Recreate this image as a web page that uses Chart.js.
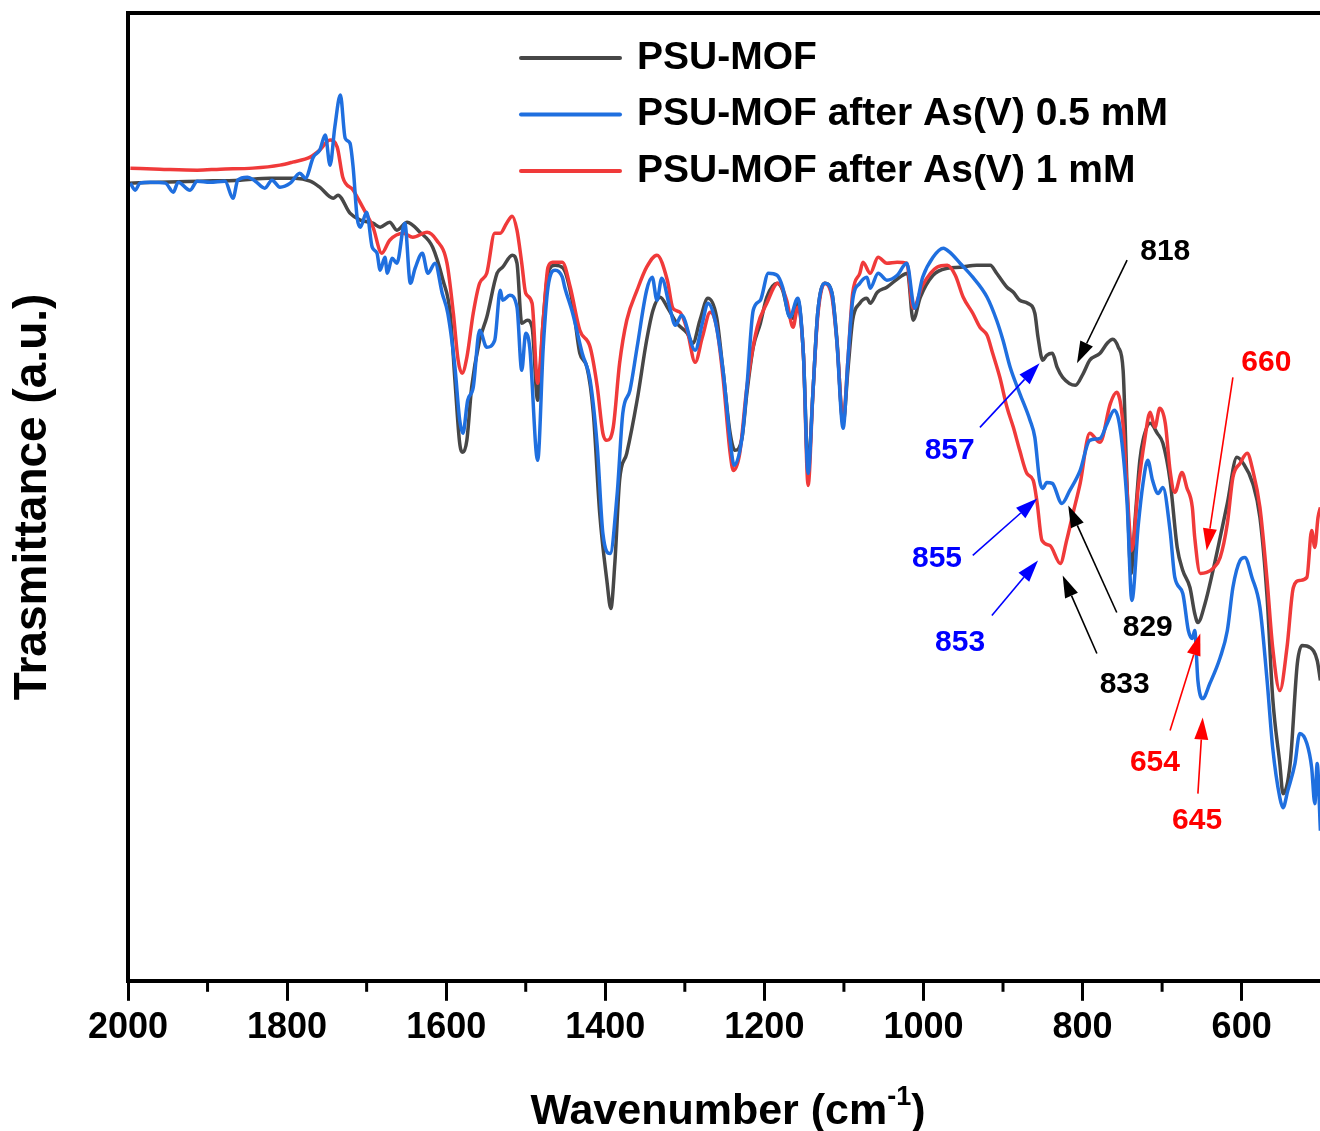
<!DOCTYPE html>
<html lang="en">
<head>
<meta charset="UTF-8" />
<title>PSU-MOF FTIR spectra</title>
<style>
  html, body { margin: 0; padding: 0; background: #fff; }
  canvas { display: block; }
</style>
</head>
<body>
<canvas id="ftir" width="1320" height="1131"></canvas>

<script src="https://cdn.jsdelivr.net/npm/chart.js@4.4.1/dist/chart.umd.min.js"></script>
<script>
// ---- data (wavenumber in cm-1, transmittance in a.u.) ----
const psuWn = [1999,1960,1910,1859,1822,1790,1771,1759,1742,1736,1721,1708,1692,1683,1671,1662,1649,1633,1617,1604,1595,1589,1583,1579,1574,1568,1558,1549,1536,1529,1517,1511,1505,1498,1492,1485,1478,1472,1463,1453,1441,1432,1423,1415,1407,1398,1393,1388,1382,1373,1360,1348,1340,1331,1322,1310,1297,1290,1281,1271,1260,1252,1243,1237,1228,1222,1214,1205,1197,1184,1177,1168,1163,1158,1151,1145,1139,1133,1124,1115,1109,1101,1095,1089,1080,1071,1067,1058,1046,1030,1020,1013,1004,988,970,954,933,916,908,895,887,879,869,860,856,850,845,838,832,825,809,799,791,778,769,762,755,749,744,739,734,728,724,715,706,699,690,681,674,665,659,655,646,636,627,618,606,598,586,577,568,561,552,548,539,530,524,514,505,501];
const psuT = [79.7,79.8,79.9,80.0,80.2,80.2,79.9,79.3,78.2,78.5,76.7,76.0,75.7,75.3,75.8,75.0,75.8,74.8,73.3,70.0,66.7,60.0,53.7,52.8,54.0,59.3,64.0,66.3,70.7,71.3,72.5,71.7,65.7,66.0,65.3,58.0,66.0,70.7,71.5,71.2,67.7,62.7,61.3,56.7,46.7,40.0,37.2,41.7,50.0,52.7,58.0,64.0,67.0,68.3,67.3,65.7,64.7,63.7,66.0,68.2,66.3,61.0,54.7,53.0,54.3,58.7,63.3,65.7,68.3,69.7,69.0,66.3,66.2,68.0,62.7,51.3,58.7,66.7,69.7,68.7,64.3,55.7,61.0,66.0,67.7,68.2,67.7,68.8,69.3,70.3,70.7,66.0,68.3,70.5,71.2,71.3,71.5,71.5,70.7,69.3,68.8,68.0,67.7,66.7,64.3,62.0,62.5,62.7,61.3,60.3,59.5,60.7,62.0,62.7,63.7,64.1,63.3,61.0,49.3,40.7,46.0,52.0,54.0,55.7,54.7,53.7,50.0,43.3,41.0,39.3,36.7,35.8,37.7,41.0,44.3,47.7,52.3,51.7,49.7,46.3,38.3,28.3,21.7,18.7,21.7,31.7,33.5,33.3,32.0,30.0];

const as05Wn = [1997,1991,1985,1972,1953,1943,1937,1922,1913,1897,1878,1868,1862,1850,1840,1828,1819,1809,1796,1784,1777,1767,1759,1752,1746,1740,1733,1727,1721,1717,1712,1708,1700,1693,1687,1683,1677,1674,1668,1662,1652,1645,1639,1630,1623,1614,1605,1598,1589,1583,1579,1573,1566,1558,1549,1539,1532,1529,1520,1511,1505,1500,1495,1485,1478,1472,1463,1454,1451,1441,1429,1419,1410,1403,1394,1385,1378,1369,1360,1348,1341,1335,1329,1319,1312,1304,1287,1278,1271,1262,1252,1243,1238,1228,1222,1214,1205,1195,1184,1177,1168,1158,1151,1145,1139,1133,1124,1115,1109,1101,1095,1089,1080,1071,1067,1057,1046,1033,1021,1011,1001,988,975,967,954,938,920,908,900,891,879,866,860,854,850,845,838,826,816,803,791,778,769,760,753,744,738,730,724,718,712,705,699,690,684,674,667,662,659,655,649,640,627,618,611,602,596,587,577,568,561,552,548,542,533,527,518,512,508,505,501];
const as05T = [79.7,79.0,79.7,79.8,79.7,78.8,79.8,79.0,79.9,79.8,79.9,78.2,80.0,80.3,79.9,79.2,80.0,79.3,79.7,80.7,80.2,82.3,83.0,84.5,81.5,85.3,88.5,84.2,83.7,81.3,76.3,75.3,76.8,73.3,72.7,71.0,72.3,70.7,72.2,71.7,75.7,69.7,71.2,72.7,70.7,71.7,68.7,66.7,61.3,56.0,54.7,58.0,59.3,65.0,63.3,64.0,69.0,68.0,68.5,67.3,61.0,64.7,63.3,52.0,63.3,69.3,71.0,70.3,69.3,66.7,62.7,60.0,53.3,44.7,42.7,48.7,56.7,59.0,63.3,69.0,70.3,68.0,70.2,67.3,65.5,66.5,63.0,65.7,67.7,66.0,61.0,54.0,51.5,54.3,59.3,67.0,68.0,70.7,70.5,69.3,66.3,68.2,62.7,50.7,58.7,66.7,69.7,68.7,64.0,55.2,62.0,68.0,69.7,70.3,69.2,70.7,70.0,70.5,71.7,67.2,70.3,72.3,73.2,72.8,71.7,70.3,68.3,66.0,64.0,61.3,58.7,56.0,54.3,50.0,49.2,49.8,49.7,47.7,49.0,51.0,54.0,54.2,55.7,57.0,55.3,47.7,38.0,45.5,49.7,52.0,50.0,48.7,49.3,45.0,40.3,38.7,35.0,34.2,35.0,30.0,28.2,29.7,32.3,35.0,39.3,42.0,42.3,40.3,37.3,30.0,23.3,18.3,17.3,19.0,21.7,24.7,23.7,21.3,17.7,21.7,15.0];

const as1Wn = [1997,1960,1913,1884,1843,1809,1793,1771,1759,1746,1737,1730,1717,1705,1692,1681,1671,1654,1642,1624,1612,1599,1591,1585,1580,1574,1566,1558,1549,1539,1532,1524,1517,1511,1505,1500,1492,1485,1478,1472,1466,1454,1444,1432,1419,1410,1403,1398,1390,1382,1373,1360,1348,1335,1322,1315,1306,1297,1287,1278,1268,1260,1252,1243,1239,1231,1222,1209,1197,1183,1172,1164,1158,1151,1145,1139,1133,1124,1115,1109,1101,1095,1089,1080,1076,1067,1057,1046,1033,1021,1013,1001,983,970,960,950,938,929,920,913,904,895,887,879,870,862,857,851,841,828,820,812,803,791,778,765,757,749,743,738,730,722,715,709,703,696,690,684,675,669,662,659,652,644,636,627,618,611,602,593,586,577,568,561,552,543,535,527,518,512,508,504,501];
const as1T = [81.2,81.1,81.0,81.1,81.2,81.5,81.8,82.3,83.0,84.0,83.3,80.3,79.0,77.3,75.3,72.7,74.0,74.7,74.3,74.8,74.0,71.7,66.7,62.0,60.7,62.3,66.7,69.7,70.7,74.7,74.7,75.7,76.4,75.0,71.7,68.7,67.7,59.7,66.0,71.3,71.8,71.8,69.3,65.0,63.3,59.3,54.7,54.0,55.3,61.7,66.0,69.0,71.3,72.5,70.0,67.2,66.8,65.0,61.8,64.3,66.8,65.3,60.3,52.7,51.0,52.7,59.3,65.3,67.7,69.7,68.0,65.3,67.3,62.7,49.5,58.7,66.3,69.7,68.3,64.0,56.0,62.0,68.7,70.7,71.8,70.7,72.3,71.7,71.8,71.7,67.2,69.5,71.3,71.5,70.5,68.3,66.7,65.3,64.5,62.7,60.3,57.3,55.3,53.0,50.7,50.0,47.7,44.0,43.5,41.7,44.0,46.7,49.7,54.7,53.8,57.7,58.8,55.5,47.7,43.0,49.3,54.0,56.8,55.3,57.2,55.7,51.0,48.8,50.8,49.3,47.3,44.3,40.7,40.8,41.2,42.3,45.7,50.3,51.7,52.7,51.0,47.3,40.0,33.3,29.0,33.3,39.3,40.0,40.3,45.0,43.3,46.3,47.3];

const seriesNames = ['PSU-MOF', 'PSU-MOF after As(V) 0.5 mM', 'PSU-MOF after As(V) 1 mM'];
const seriesColors = ['#474747', '#1f6fdf', '#f03a3a'];

// tick positions on the wavenumber axis (labels on every second one)
const xTicks = [2000, 1900, 1800, 1700, 1600, 1500, 1400, 1300, 1200, 1100, 1000, 900, 800, 700, 600];

// peak labels: text, colour, label position, arrow start, arrow tip (wavenumber, a.u.)
const notes = [
  { text: '818', color: '#000000', at: [696, 72.8], from: [744, 72.0], to: [807, 61.7] },
  { text: '857', color: '#0000ff', at: [967, 53.0], from: [929, 55.3], to: [854, 61.7] },
  { text: '855', color: '#0000ff', at: [983, 42.2], from: [938, 42.5], to: [857, 48.2] },
  { text: '853', color: '#0000ff', at: [954, 33.8], from: [914, 36.5], to: [856, 42.0] },
  { text: '829', color: '#000000', at: [718, 35.3], from: [757, 36.8], to: [818, 47.5] },
  { text: '833', color: '#000000', at: [747, 29.6], from: [782, 32.7], to: [825, 40.5] },
  { text: '660', color: '#ff0000', at: [569, 61.8], from: [611, 60.3], to: [644, 43.0] },
  { text: '654', color: '#ff0000', at: [709, 21.8], from: [690, 25.0], to: [652, 34.7] },
  { text: '645', color: '#ff0000', at: [656, 16.0], from: [655, 18.7], to: [649, 26.3] }
];

const FONT = "'Liberation Sans', Arial, Helvetica, sans-serif";

function pts(wn, t) {
  return wn.map((w, i) => ({ x: w, y: t[i] }));
}

// frame, minor ticks, axis titles, legend and peak labels
const extras = {
  id: 'extras',
  afterDraw(chart) {
    const { ctx, chartArea: a } = chart;
    const xs = chart.scales.x, ys = chart.scales.y;
    ctx.save();

    // left and top border
    ctx.strokeStyle = '#000';
    ctx.lineWidth = 4;
    ctx.lineCap = 'square';
    ctx.beginPath();
    ctx.moveTo(a.left, a.bottom);
    ctx.lineTo(a.left, a.top);
    ctx.lineTo(chart.width + 4, a.top);
    ctx.stroke();

    // minor ticks every 100
    ctx.lineWidth = 3;
    ctx.lineCap = 'butt';
    xs.ticks.forEach(t => {
      if (t.value % 200 !== 0) {
        const px = xs.getPixelForValue(t.value);
        ctx.beginPath();
        ctx.moveTo(px, a.bottom);
        ctx.lineTo(px, a.bottom + 11);
        ctx.stroke();
      }
    });

    // x title with superscript
    ctx.fillStyle = '#000';
    ctx.textBaseline = 'alphabetic';
    ctx.textAlign = 'left';
    const big = 'bold 43px ' + FONT, small = 'bold 27px ' + FONT;
    ctx.font = big;
    const w1 = ctx.measureText('Wavenumber (cm').width;
    const w3 = ctx.measureText(')').width;
    ctx.font = small;
    const w2 = ctx.measureText('-1').width;
    let tx = (a.left + a.right) / 2 - (w1 + w2 + w3) / 2 + 4;
    const base = 1124;
    ctx.font = big;
    ctx.fillText('Wavenumber (cm', tx, base);
    ctx.font = small;
    ctx.fillText('-1', tx + w1, base - 19);
    ctx.font = big;
    ctx.fillText(')', tx + w1 + w2, base);

    // y title
    ctx.save();
    ctx.translate(33, (a.top + a.bottom) / 2);
    ctx.rotate(-Math.PI / 2);
    ctx.font = 'bold 46px ' + FONT;
    ctx.textAlign = 'center';
    ctx.textBaseline = 'middle';
    ctx.fillText('Trasmittance (a.u.)', 0, 0);
    ctx.restore();

    // legend
    ctx.font = 'bold 39px ' + FONT;
    ctx.textAlign = 'left';
    ctx.textBaseline = 'middle';
    chart.data.datasets.forEach((ds, i) => {
      const ly = 58 + i * 56.5;
      ctx.strokeStyle = ds.borderColor;
      ctx.lineWidth = 4;
      ctx.lineCap = 'round';
      ctx.beginPath();
      ctx.moveTo(521, ly);
      ctx.lineTo(620, ly);
      ctx.stroke();
      ctx.fillStyle = '#000';
      ctx.fillText(ds.label, 637, ly);
    });

    // peak labels with arrows
    ctx.font = 'bold 30px ' + FONT;
    ctx.textAlign = 'center';
    ctx.textBaseline = 'middle';
    notes.forEach(n => {
      const x0 = xs.getPixelForValue(n.from[0]), y0 = ys.getPixelForValue(n.from[1]);
      const x1 = xs.getPixelForValue(n.to[0]), y1 = ys.getPixelForValue(n.to[1]);
      const ang = Math.atan2(y1 - y0, x1 - x0);
      const hl = 22, hw = 7;
      const bx = x1 - hl * Math.cos(ang), by = y1 - hl * Math.sin(ang);
      ctx.strokeStyle = n.color;
      ctx.fillStyle = n.color;
      ctx.lineWidth = 1.6;
      ctx.lineCap = 'butt';
      ctx.beginPath();
      ctx.moveTo(x0, y0);
      ctx.lineTo(bx, by);
      ctx.stroke();
      ctx.beginPath();
      ctx.moveTo(x1, y1);
      ctx.lineTo(bx + hw * Math.sin(ang), by - hw * Math.cos(ang));
      ctx.lineTo(bx - hw * Math.sin(ang), by + hw * Math.cos(ang));
      ctx.closePath();
      ctx.fill();
      ctx.fillText(n.text, xs.getPixelForValue(n.at[0]), ys.getPixelForValue(n.at[1]));
    });

    ctx.restore();
  }
};

const ctx = document.getElementById('ftir').getContext('2d');
const chart = new Chart(ctx, {
  type: 'line',
  data: {
    datasets: [
      { label: seriesNames[0], data: pts(psuWn, psuT), borderColor: seriesColors[0], order: 2 },
      { label: seriesNames[1], data: pts(as05Wn, as05T), borderColor: seriesColors[1], order: 0 },
      { label: seriesNames[2], data: pts(as1Wn, as1T), borderColor: seriesColors[2], order: 1 }
    ]
  },
  options: {
    responsive: false,
    animation: false,
    parsing: false,
    elements: {
      line: { borderWidth: 3.5, cubicInterpolationMode: 'monotone', fill: false },
      point: { radius: 0, hoverRadius: 0 }
    },
    layout: { padding: { left: 128, top: 13, right: 0, bottom: 75 } },
    plugins: {
      legend: { display: false },
      tooltip: { enabled: false }
    },
    scales: {
      x: {
        type: 'linear',
        reverse: true,
        min: 501.5,
        max: 2000,
        afterBuildTicks: scale => { scale.ticks = xTicks.map(v => ({ value: v })); },
        border: { display: true, width: 4, color: '#000' },
        grid: {
          display: true,
          drawOnChartArea: false,
          tickLength: 20,
          tickWidth: 3,
          tickColor: c => (c.tick && c.tick.value % 200 === 0) ? '#000' : 'rgba(0,0,0,0)'
        },
        ticks: {
          autoSkip: false,
          maxRotation: 0,
          padding: 6,
          color: '#000',
          font: { family: FONT, size: 36, weight: 'bold' },
          callback: v => (v % 200 === 0 ? String(v) : '')
        }
      },
      y: {
        display: false,
        min: 0,
        max: 96.7
      }
    }
  },
  plugins: [extras]
});
</script>
</body>
</html>
